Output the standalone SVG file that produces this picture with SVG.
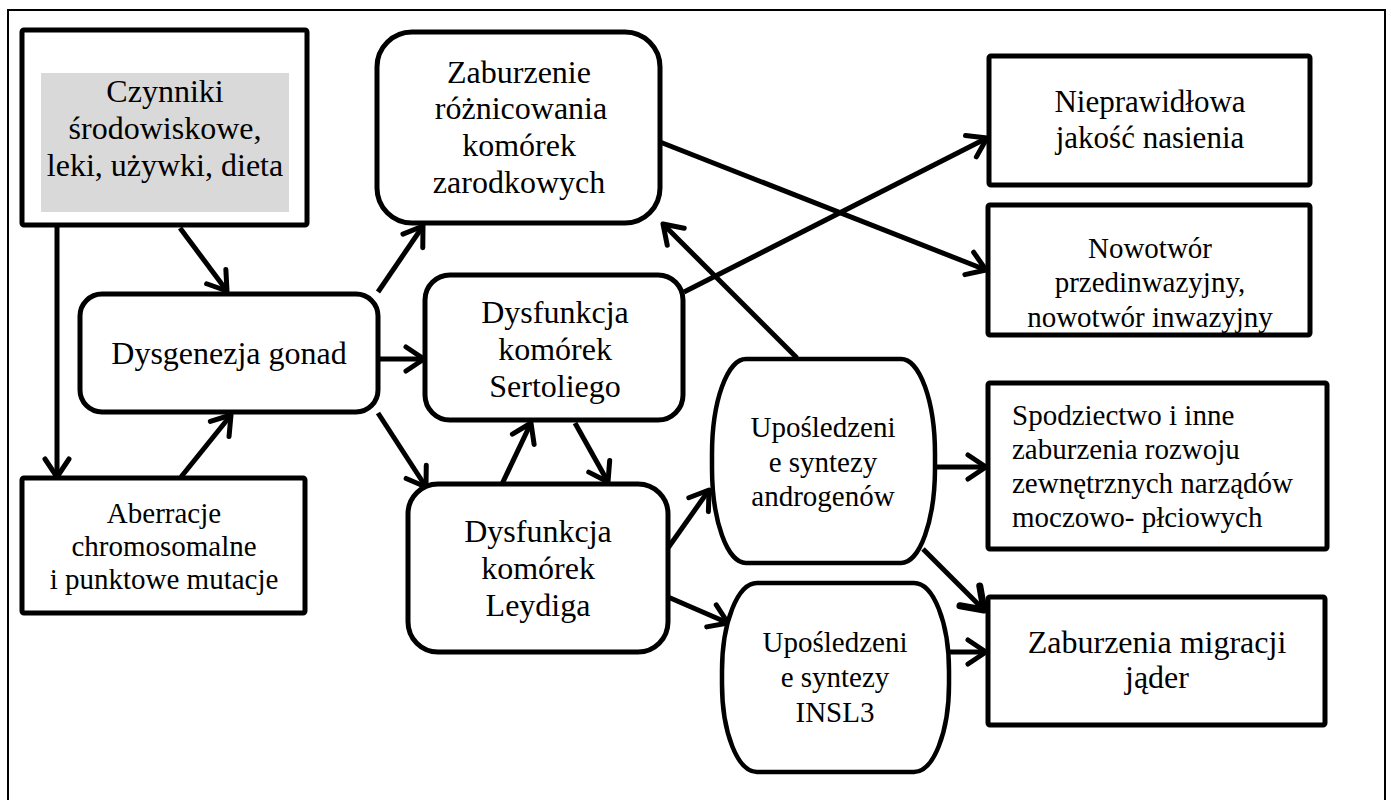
<svg xmlns="http://www.w3.org/2000/svg" width="1391" height="800" viewBox="0 0 1391 800">
  <style>
    .box { fill: #fff; stroke: #000; stroke-width: 5; }
    .stad { fill: #fff; stroke: #000; stroke-width: 4.5; }
    .t { font-family: "Liberation Serif", "Times New Roman", serif; fill: #000; text-anchor: middle; }
    .tl { font-family: "Liberation Serif", "Times New Roman", serif; fill: #000; text-anchor: start; }
    .c { stroke: #000; stroke-width: 5; fill: none; }
  </style>
  <defs>
    <marker id="ah" viewBox="-4 -4 30 32" markerWidth="30" markerHeight="32" refX="18" refY="12" orient="auto" markerUnits="userSpaceOnUse">
      <path d="M0,0 L18,12 L0,24" fill="none" stroke="#000" stroke-width="5" stroke-linecap="round" stroke-linejoin="round"/>
    </marker>
    <marker id="ah2" viewBox="-5 -5 34 38" markerWidth="34" markerHeight="38" refX="20" refY="14" orient="auto" markerUnits="userSpaceOnUse">
      <path d="M0,0 L20,14 L0,28" fill="none" stroke="#000" stroke-width="7" stroke-linecap="round" stroke-linejoin="round"/>
    </marker>
  </defs>
  <rect x="0" y="0" width="1391" height="800" fill="#fff"/>
  <rect x="8" y="10" width="1377" height="820" fill="none" stroke="#000" stroke-width="2"/>

  <g id="connectors">
    <line class="c" x1="57" y1="225" x2="57" y2="477" marker-end="url(#ah)"/>
    <line class="c" x1="180" y1="228" x2="227" y2="291" marker-end="url(#ah)"/>
    <line class="c" x1="181" y1="477" x2="231" y2="415" marker-end="url(#ah)"/>
    <line class="c" x1="378" y1="292" x2="423" y2="226" marker-end="url(#ah)"/>
    <line class="c" x1="378" y1="359" x2="424" y2="359" marker-end="url(#ah)"/>
    <line class="c" x1="378" y1="413" x2="426" y2="487" marker-end="url(#ah)"/>
    <line class="c" x1="502" y1="484" x2="531" y2="423" marker-end="url(#ah)"/>
    <line class="c" x1="575" y1="423" x2="608" y2="482" marker-end="url(#ah)"/>
    <line class="c" x1="668" y1="548" x2="709" y2="490" marker-end="url(#ah)"/>
    <line class="c" x1="668" y1="597" x2="728" y2="623" marker-end="url(#ah)"/>
    <line class="c" x1="797" y1="358" x2="663" y2="224" stroke-width="4" marker-end="url(#ah)"/>
    <line class="c" x1="684" y1="292" x2="987" y2="138" marker-end="url(#ah)"/>
    <line class="c" x1="660" y1="142" x2="986" y2="270" marker-end="url(#ah)"/>
    <line class="c" x1="936" y1="467" x2="986" y2="467" marker-end="url(#ah)"/>
    <line class="c" x1="923" y1="549" x2="984" y2="610" stroke-width="7" marker-end="url(#ah2)"/>
    <line class="c" x1="949" y1="652" x2="986" y2="652" marker-end="url(#ah)"/>
  </g>

  <g id="czynniki">
    <rect class="box" x="22" y="30" width="285" height="195" rx="2"/>
    <rect x="41" y="73" width="248" height="139" fill="#d9d9d9"/>
    <text class="t" font-size="32" x="165" y="102">Czynniki</text>
    <text class="t" font-size="32" x="165" y="139">środowiskowe,</text>
    <text class="t" font-size="32" x="165" y="176">leki, używki, dieta</text>
  </g>

  <g id="dysgenezja">
    <rect class="box" x="80" y="294" width="298" height="118" rx="22"/>
    <text class="t" font-size="32" x="229" y="364">Dysgenezja gonad</text>
  </g>

  <g id="aberracje">
    <rect class="box" x="22" y="478" width="283" height="135" rx="2"/>
    <text class="t" font-size="29" x="164" y="523">Aberracje</text>
    <text class="t" font-size="29" x="164" y="556">chromosomalne</text>
    <text class="t" font-size="29" x="164" y="589">i punktowe mutacje</text>
  </g>

  <g id="zaburzenie">
    <rect class="box" x="377" y="32" width="283" height="191" rx="35"/>
    <text class="t" font-size="32" x="519" y="83">Zaburzenie</text>
    <text class="t" font-size="32" x="521" y="119">różnicowania</text>
    <text class="t" font-size="32" x="519" y="156">komórek</text>
    <text class="t" font-size="32" x="519" y="193">zarodkowych</text>
  </g>

  <g id="sertoli">
    <rect class="box" x="425" y="275" width="258" height="145" rx="25"/>
    <text class="t" font-size="32" x="555" y="323">Dysfunkcja</text>
    <text class="t" font-size="32" x="555" y="360">komórek</text>
    <text class="t" font-size="32" x="555" y="397">Sertoliego</text>
  </g>

  <g id="leydiga">
    <rect class="box" x="408" y="484" width="260" height="168" rx="30"/>
    <text class="t" font-size="32" x="538" y="542">Dysfunkcja</text>
    <text class="t" font-size="32" x="538" y="579">komórek</text>
    <text class="t" font-size="32" x="538" y="616">Leydiga</text>
  </g>

  <g id="androgeny">
    <rect class="stad" x="712" y="359" width="223" height="204" rx="34" ry="95"/>
    <text class="t" font-size="29" x="823" y="437">Upośledzeni</text>
    <text class="t" font-size="29" x="823" y="472">e syntezy</text>
    <text class="t" font-size="29" x="823" y="506">androgenów</text>
  </g>

  <g id="insl3">
    <rect class="stad" x="722" y="583" width="227" height="189" rx="35" ry="88"/>
    <text class="t" font-size="29" x="835" y="652">Upośledzeni</text>
    <text class="t" font-size="29" x="835" y="687">e syntezy</text>
    <text class="t" font-size="29" x="835" y="722">INSL3</text>
  </g>

  <g id="nasienie">
    <rect class="box" x="989" y="56" width="321" height="129" rx="2"/>
    <text class="t" font-size="31" x="1150" y="112">Nieprawidłowa</text>
    <text class="t" font-size="31" x="1150" y="148">jakość nasienia</text>
  </g>

  <g id="nowotwor">
    <rect class="box" x="988" y="205" width="322" height="130" rx="2"/>
    <text class="t" font-size="29" x="1150" y="258">Nowotwór</text>
    <text class="t" font-size="29" x="1150" y="292">przedinwazyjny,</text>
    <text class="t" font-size="29" x="1150" y="327">nowotwór inwazyjny</text>
  </g>

  <g id="spodziectwo">
    <rect class="box" x="988" y="383" width="339" height="166" rx="2"/>
    <text class="tl" font-size="29" x="1012" y="425">Spodziectwo i inne</text>
    <text class="tl" font-size="29" x="1012" y="459">zaburzenia rozwoju</text>
    <text class="tl" font-size="29" x="1012" y="493">zewnętrznych narządów</text>
    <text class="tl" font-size="29" x="1012" y="527">moczowo- płciowych</text>
  </g>

  <g id="migracja">
    <rect class="box" x="988" y="597" width="337" height="128" rx="2"/>
    <text class="t" font-size="32" x="1157" y="653">Zaburzenia migracji</text>
    <text class="t" font-size="32" x="1157" y="688">jąder</text>
  </g>
</svg>
